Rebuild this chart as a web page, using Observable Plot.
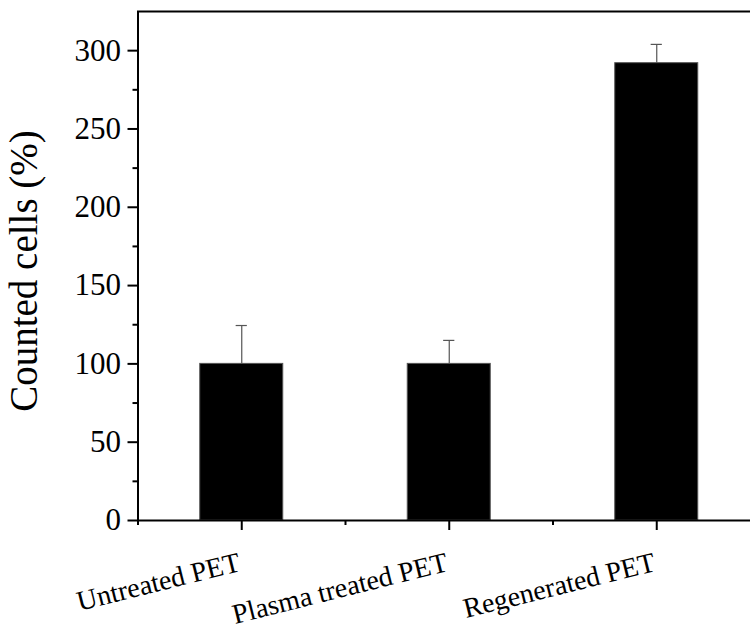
<!DOCTYPE html>
<html>
<head>
<meta charset="utf-8">
<script src="https://cdn.jsdelivr.net/npm/d3@7"></script>
<script src="https://cdn.jsdelivr.net/npm/@observablehq/plot@0.6"></script>
<style>
  html, body { margin: 0; padding: 0; background: #fff; overflow: hidden; }
  #chart { width: 750px; height: 631px; overflow: hidden; }
  #chart svg { max-width: none !important; }
</style>
</head>
<body>
<div id="chart"></div>
<script>
const categories = ["Untreated PET", "Plasma treated PET", "Regenerated PET"];
const values = [100, 100, 292];
const errors = [24.5, 15, 12];
const yMajorTicks = [0, 50, 100, 150, 200, 250, 300];
const yMinorTicks = [25, 75, 125, 175, 225, 275];
const yLabel = "Counted cells (%)";

const data = categories.map((c, i) => ({i, category: c, value: values[i], upper: values[i] + errors[i]}));
const font = "Liberation Serif, Times New Roman, serif";

const chart = Plot.plot({
  width: 770,
  height: 631,
  marginLeft: 137.5,
  marginRight: 10,
  marginTop: 11,
  marginBottom: 111,
  style: {fontFamily: font, background: "#fff", color: "#000", maxWidth: "none"},
  x: {type: "linear", domain: [-0.5, 2.5], axis: null},
  y: {domain: [0, 325], axis: null},
  marks: [
    Plot.rectY(data, {x1: d => d.i - 0.2, x2: d => d.i + 0.2, y: "value", fill: "#000", stroke: "#555", strokeWidth: 1}),
    Plot.ruleX(data, {x: "i", y1: "value", y2: "upper", stroke: "#555", strokeWidth: 1.2}),
    Plot.ruleY(data, {y: "upper", x1: d => d.i - 0.027, x2: d => d.i + 0.027, stroke: "#555", strokeWidth: 1.2}),
    Plot.axisY(yMajorTicks, {tickSize: 10, tickPadding: 7, fontSize: 31, strokeWidth: 2, label: null, tickFormat: d => String(d)}),
    Plot.axisY(yMinorTicks, {tickSize: 5, strokeWidth: 2, label: null, tickFormat: () => ""}),
    Plot.axisX([0, 1, 2], {tickSize: 10, strokeWidth: 2, label: null, tickFormat: () => ""}),
    Plot.axisX([-0.5, 0.5, 1.5, 2.5], {tickSize: 5, strokeWidth: 2, label: null, tickFormat: () => ""}),
    Plot.text(categories, {x: (d, i) => i, frameAnchor: "bottom", dy: 50, rotate: -14, textAnchor: "end", lineAnchor: "bottom", fontSize: 28, fontFamily: font, fill: "#000"}),
    Plot.text([yLabel], {frameAnchor: "left", dx: -113, dy: 5, rotate: -90, textAnchor: "middle", lineAnchor: "middle", fontSize: 39, fontFamily: font, fill: "#000"}),
    Plot.frame({stroke: "#000", strokeWidth: 2})
  ]
});
document.getElementById("chart").appendChild(chart);
</script>
</body>
</html>
